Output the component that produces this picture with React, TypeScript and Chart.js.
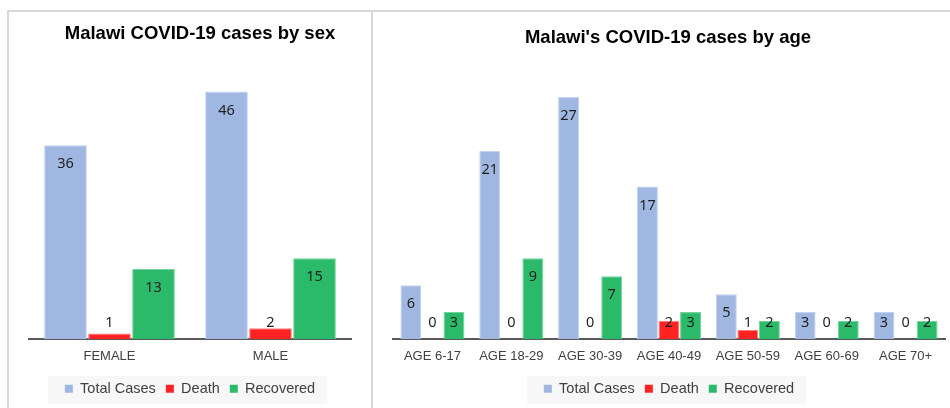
import React, { useEffect, useRef } from "react";
import { Chart, registerables } from "chart.js";

Chart.register(...registerables);

// ---- data ----
const sexCategories = ["FEMALE", "MALE"];
const sexTotal = [36, 46];
const sexDeath = [1, 2];
const sexRecovered = [13, 15];

const ageCategories = [
  "AGE 6-17",
  "AGE 18-29",
  "AGE 30-39",
  "AGE 40-49",
  "AGE 50-59",
  "AGE 60-69",
  "AGE 70+",
];
const ageTotal = [6, 21, 27, 17, 5, 3, 3];
const ageDeath = [0, 0, 0, 2, 1, 0, 0];
const ageRecovered = [3, 9, 7, 3, 2, 2, 2];

const seriesNames = ["Total Cases", "Death", "Recovered"];
const seriesColors = ["#a0b7e1", "#ff2323", "#2bba69"];
const seriesBorders = ["#c3d2ee", "#ff8080", "#74d39c"];

const sexTitle = "Malawi COVID-19 cases by sex";
const ageTitle = "Malawi's COVID-19 cases by age";

const FONT = "'Liberation Sans', Arial, sans-serif";

// ---- plugins ----
const valueLabels = {
  id: "valueLabels",
  afterDatasetsDraw(chart: any) {
    const ctx = chart.ctx;
    ctx.save();
    ctx.font = "14.5px 'Noto Sans', 'Liberation Sans', sans-serif";
    ctx.fillStyle = "#1f1f1f";
    ctx.textAlign = "center";
    ctx.textBaseline = "middle";
    chart.data.datasets.forEach((ds: any, i: number) => {
      const meta = chart.getDatasetMeta(i);
      meta.data.forEach((el: any, j: number) => {
        const { x, y, base } = el.getProps(["x", "y", "base"], true);
        const ly = Math.min(y + 19, base - 16);
        ctx.fillText(String(ds.data[j]), x, ly);
      });
    });
    ctx.restore();
  },
};

const legendBg = {
  id: "legendBg",
  beforeDraw(chart: any) {
    const boxes = chart.legend && chart.legend.legendHitBoxes;
    if (!boxes || !boxes.length) return;
    const first = boxes[0];
    const last = boxes[boxes.length - 1];
    const x0 = first.left - 17;
    const x1 = last.left + last.width + 12;
    const cy = first.top + first.height / 2;
    const ctx = chart.ctx;
    ctx.save();
    ctx.fillStyle = "#f7f7f7";
    ctx.fillRect(x0, cy - 13, x1 - x0, 28);
    ctx.restore();
  },
};

const panelTitle = {
  id: "panelTitle",
  afterDraw(chart: any, _args: any, opts: any) {
    if (!opts || !opts.text) return;
    const ctx = chart.ctx;
    ctx.save();
    ctx.font = `bold 18.5px ${FONT}`;
    ctx.fillStyle = "#000000";
    ctx.textAlign = "center";
    ctx.textBaseline = "alphabetic";
    ctx.fillText(opts.text, opts.x, opts.y);
    ctx.restore();
  },
};

function makeConfig(
  labels: string[],
  total: number[],
  death: number[],
  recovered: number[],
  max: number,
  padLeft: number,
  padRight: number,
  title: { text: string; x: number; y: number }
): any {
  const values = [total, death, recovered];
  return {
    type: "bar",
    data: {
      labels,
      datasets: values.map((d, i) => ({
        label: seriesNames[i],
        data: d,
        backgroundColor: seriesColors[i],
        borderColor: seriesBorders[i],
        borderWidth: 1,
        categoryPercentage: 0.82,
        barPercentage: 0.97,
      })),
    },
    options: {
      responsive: false,
      animation: false,
      devicePixelRatio: 1,
      events: [],
      layout: { padding: { top: 59, left: padLeft, right: padRight, bottom: 9 } },
      scales: {
        x: {
          grid: { display: false, drawTicks: false },
          border: { display: true, color: "#595959", width: 2 },
          ticks: {
            color: "#404040",
            font: { family: FONT, size: 13 },
            padding: 10,
            maxRotation: 0,
            autoSkip: false,
          },
          afterFit: (s: any) => {
            s.height = 32.5;
          },
        },
        y: { display: false, min: 0, max },
      },
      plugins: {
        title: { display: false },
        tooltip: { enabled: false },
        legend: {
          position: "bottom",
          labels: {
            boxWidth: 8,
            boxHeight: 8,
            padding: 10,
            color: "#404040",
            font: { family: FONT, size: 14.5 },
            generateLabels: (chart: any) =>
              Chart.defaults.plugins.legend.labels
                .generateLabels(chart)
                .map((it: any, k: number) => ({
                  ...it,
                  fillStyle: seriesColors[k],
                  strokeStyle: seriesColors[k],
                  lineWidth: 0,
                })),
          },
        },
        panelTitle: title,
      },
    },
    plugins: [legendBg, valueLabels, panelTitle],
  };
}

function ChartCanvas(props: { width: number; height: number; left: number; top: number; config: () => any }) {
  const ref = useRef<HTMLCanvasElement | null>(null);
  useEffect(() => {
    if (!ref.current) return;
    const chart = new Chart(ref.current, props.config());
    return () => chart.destroy();
  }, []);
  return (
    <canvas
      ref={ref}
      width={props.width}
      height={props.height}
      style={{
        position: "absolute",
        left: props.left,
        top: props.top,
        width: props.width,
        height: props.height,
        display: "block",
      }}
    />
  );
}

export default function App() {
  return (
    <div
      style={{
        position: "fixed",
        left: 0,
        top: 0,
        width: 950,
        height: 408,
        overflow: "hidden",
        background: "#ffffff",
      }}
    >
      <div
        style={{
          position: "absolute",
          left: 7,
          top: 10,
          width: 366,
          height: 420,
          boxSizing: "border-box",
          border: "2px solid #d9d9d9",
        }}
      />
      <div
        style={{
          position: "absolute",
          left: 371,
          top: 10,
          width: 600,
          height: 420,
          boxSizing: "border-box",
          borderTop: "2px solid #d9d9d9",
          borderLeft: "2px solid #d9d9d9",
        }}
      />
      <ChartCanvas
        width={363}
        height={404}
        left={8}
        top={11}
        config={() =>
          makeConfig(sexCategories, sexTotal, sexDeath, sexRecovered, 50, 21, 20, {
            text: sexTitle,
            x: 192,
            y: 27.5,
          })
        }
      />
      <ChartCanvas
        width={577}
        height={404}
        left={373}
        top={11}
        config={() =>
          makeConfig(ageCategories, ageTotal, ageDeath, ageRecovered, 30, 20, 5, {
            text: ageTitle,
            x: 295,
            y: 31.5,
          })
        }
      />
    </div>
  );
}
